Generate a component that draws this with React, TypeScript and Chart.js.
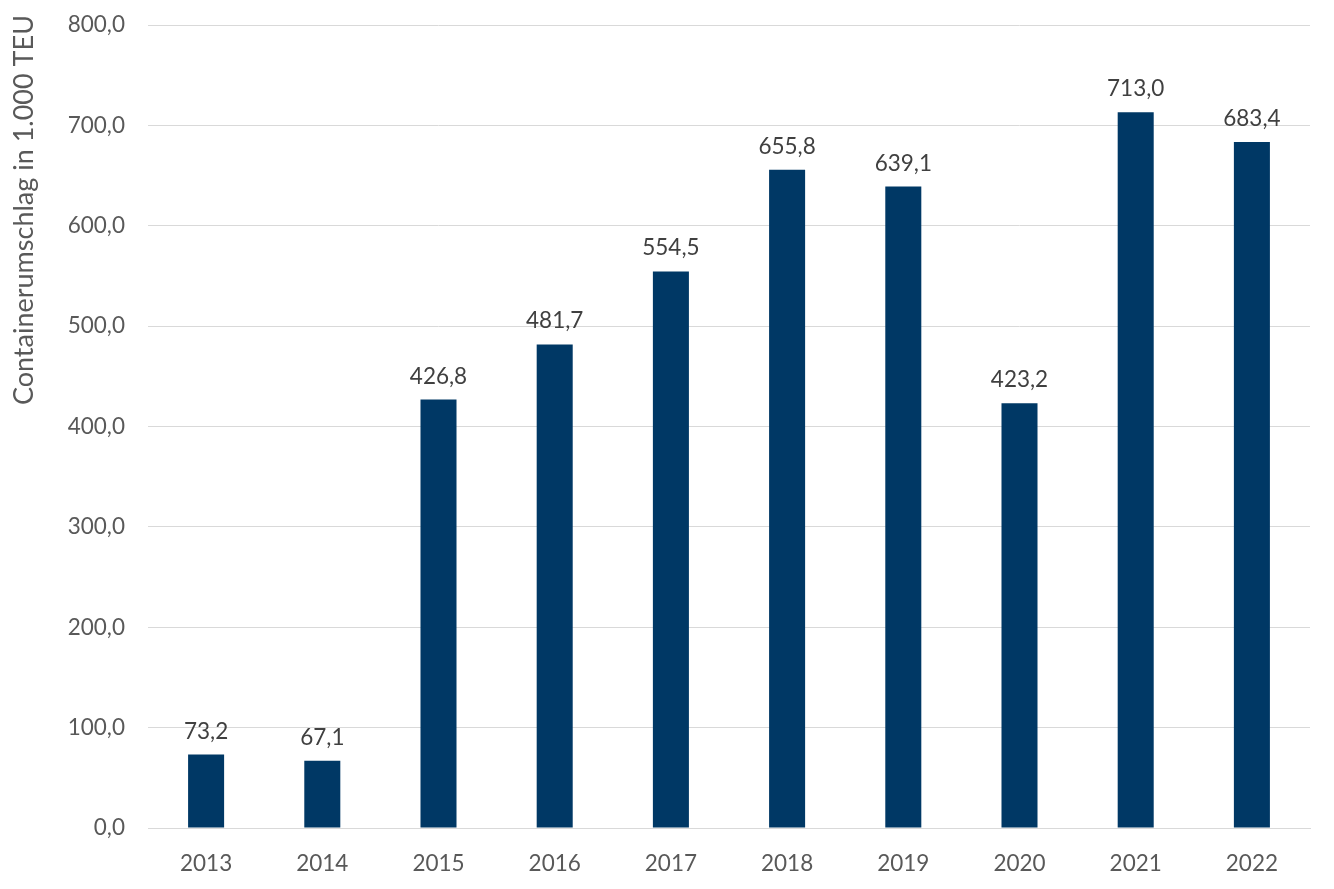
import React, { useEffect, useRef } from "react";
import { Chart, registerables } from "chart.js";

Chart.register(...registerables);

const years = ["2013", "2014", "2015", "2016", "2017", "2018", "2019", "2020", "2021", "2022"];
const teu = [73.2, 67.1, 426.8, 481.7, 554.5, 655.8, 639.1, 423.2, 713.0, 683.4];
const yTitle = "Containerumschlag in 1.000 TEU";

const FONT = "Lato, 'Open Sans', sans-serif";
const fmt = (v: number) => v.toFixed(1).replace(".", ",");

const labelsPlugin = {
  id: "valueLabels",
  afterDatasetsDraw(chart: any) {
    const ctx = chart.ctx;
    const meta = chart.getDatasetMeta(0);
    ctx.save();
    ctx.font = `22.5px ${FONT}`;
    ctx.fillStyle = "#404040";
    ctx.textAlign = "center";
    ctx.textBaseline = "alphabetic";
    meta.data.forEach((bar: any, i: number) => {
      ctx.fillText(fmt(teu[i]), bar.x, bar.y - 16);
    });
    // y axis title
    ctx.font = `27px ${FONT}`;
    ctx.translate(33, 15);
    ctx.rotate(-Math.PI / 2);
    ctx.textAlign = "right";
    ctx.textBaseline = "alphabetic";
    ctx.fillStyle = "#595959";
    ctx.fillText(yTitle, 0, 0);
    ctx.restore();
  },
};

export default function App() {
  const ref = useRef<HTMLCanvasElement>(null);
  useEffect(() => {
    document.body.style.margin = "0";
    const chart = new Chart(ref.current!, {
      type: "bar",
      data: {
        labels: years,
        datasets: [
          {
            data: teu,
            backgroundColor: "#003865",
            barPercentage: 0.31,
            categoryPercentage: 1,
          },
        ],
      },
      options: {
        animation: false,
        responsive: false,
        layout: { padding: { top: 25, right: 24, left: 0, bottom: 0 } },
        plugins: { legend: { display: false }, tooltip: { enabled: false } },
        scales: {
          x: {
            grid: { display: false },
            border: { color: "#d9d9d9", width: 1 },
            ticks: { color: "#595959", font: { family: FONT, size: 22.5 }, padding: 14 },
            afterFit: (s: any) => {
              s.height = 61;
              s.paddingLeft = 0;
              s.paddingRight = 0;
            },
          },
          y: {
            min: 0,
            max: 800,
            grid: { color: "#d9d9d9", drawTicks: false },
            border: { display: false },
            ticks: {
              stepSize: 100,
              color: "#595959",
              font: { family: FONT, size: 22.5 },
              padding: 23,
              callback: (v: any) => fmt(Number(v)),
            },
            afterFit: (s: any) => {
              s.width = 148;
              s.paddingTop = 0;
              s.paddingBottom = 0;
            },
          },
        },
      },
      plugins: [labelsPlugin],
    });
    return () => chart.destroy();
  }, []);
  return <canvas ref={ref} width={1334} height={889} style={{ display: "block" }} />;
}
